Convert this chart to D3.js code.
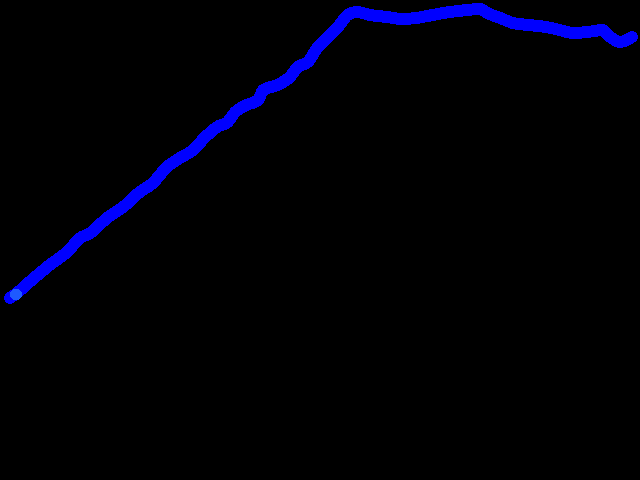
<!DOCTYPE html>
<html>
<head>
<meta charset="utf-8">
<script src="https://cdn.jsdelivr.net/npm/d3@7"></script>
<style>
  html, body { margin: 0; padding: 0; background: #000; }
  svg { display: block; }
</style>
</head>
<body>
<svg id="chart" width="640" height="480"></svg>
<script>
// Series: progress (t) vs value (v)
const tValues = [0, 0.8, 3.5, 6.4, 9.2, 11.3, 12.9, 15.6, 18.2, 20.9, 23.0, 24.1, 24.9, 26.8, 29.4, 31.4, 33.3, 35.0, 36.2, 38.1, 39.9, 40.7, 42.9, 45.0, 46.3, 47.9, 49.4, 51.1, 52.7, 54.3, 55.8, 57.9, 60.6, 63.0, 65.4, 68.0, 70.7, 73.5, 75.6, 76.7, 78.8, 80.9, 83.6, 86.3, 88.4, 90.5, 92.8, 95.2, 96.5, 98.1, 100];
const vValues = [0, 1.2, 6.2, 11.4, 15.9, 20.7, 22.4, 27.6, 31.4, 36.6, 39.7, 42.4, 44.5, 47.6, 51.0, 55.5, 59.0, 60.7, 64.1, 66.6, 68.3, 71.7, 73.4, 76.2, 79.7, 81.4, 86.2, 90.0, 93.4, 97.6, 98.6, 97.6, 96.9, 96.2, 96.6, 97.6, 98.6, 99.3, 99.7, 98.3, 96.6, 94.8, 94.1, 93.4, 92.4, 91.4, 91.7, 92.4, 90.0, 88.3, 90.0];
const highlightIndex = 1;

const data = tValues.map((t, i) => ({ t, v: vValues[i] }));

const svg = d3.select("#chart");
svg.append("rect").attr("width", 640).attr("height", 480).attr("fill", "#000");

const x = d3.scaleLinear().domain([0, 100]).range([10, 632]);
const y = d3.scaleLinear().domain([0, 100]).range([298, 8]);

const line = d3.line().x(d => x(d.t)).y(d => y(d.v)).curve(d3.curveMonotoneX);

svg.append("path")
  .datum(data)
  .attr("d", line)
  .attr("fill", "none")
  .attr("stroke", "#0000ff")
  .attr("stroke-width", 12)
  .attr("stroke-linecap", "round")
  .attr("stroke-linejoin", "round")
  .attr("shape-rendering", "crispEdges");

svg.selectAll("circle.pt")
  .data(data)
  .join("circle")
  .attr("class", "pt")
  .attr("cx", d => x(d.t))
  .attr("cy", d => y(d.v))
  .attr("r", 6)
  .attr("fill", "#0000ff")
  .attr("shape-rendering", "crispEdges");

svg.append("circle")
  .attr("cx", x(data[highlightIndex].t) + 1)
  .attr("cy", y(data[highlightIndex].v))
  .attr("r", 6)
  .attr("fill", "#1e5aff")
  .attr("shape-rendering", "crispEdges");
</script>
</body>
</html>
